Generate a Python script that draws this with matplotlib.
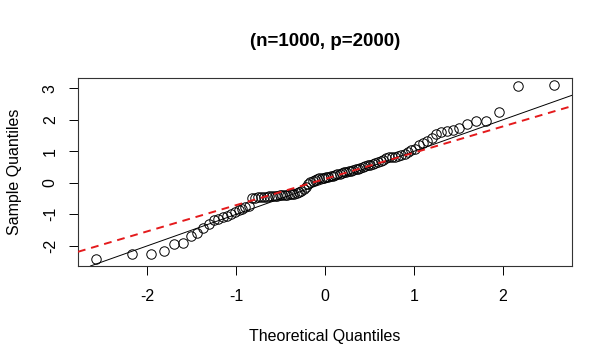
import numpy as np
import matplotlib
matplotlib.use("Agg")
import matplotlib.pyplot as plt
from statistics import NormalDist

plt.rcParams['font.family'] = ['Liberation Sans', 'DejaVu Sans']

# Sorted sample quantiles (n = 100 points)
sample_quantiles = [
    -2.42, -2.27, -2.25, -2.16, -1.94, -1.92, -1.68, -1.58, -1.43, -1.30,
    -1.17, -1.14, -1.10, -1.05, -1.00, -0.91, -0.87, -0.84, -0.77, -0.72,
    -0.48, -0.47, -0.46, -0.46, -0.45, -0.44, -0.43, -0.42, -0.41, -0.41,
    -0.40, -0.39, -0.38, -0.37, -0.36, -0.35, -0.34, -0.32, -0.30, -0.26,
    -0.20, -0.12, -0.05, 0.02, 0.06, 0.09, 0.12, 0.14, 0.16, 0.17,
    0.18, 0.20, 0.21, 0.23, 0.25, 0.27, 0.29, 0.31, 0.33, 0.35,
    0.37, 0.39, 0.41, 0.43, 0.45, 0.47, 0.50, 0.53, 0.56, 0.57,
    0.60, 0.63, 0.65, 0.69, 0.74, 0.79, 0.81, 0.82, 0.83, 0.85,
    0.88, 0.92, 0.98, 1.04, 1.08, 1.20, 1.28, 1.32, 1.42, 1.56,
    1.60, 1.66, 1.69, 1.74, 1.88, 1.95, 1.98, 2.24, 3.07, 3.11,
]
# Reference lines: solid black identity line, dashed red fitted line
identity_line = (0.0, 1.0)        # (intercept, slope)
fitted_line = (0.125, 0.832)      # (intercept, slope)

title = "(n=1000, p=2000)"
x_label = "Theoretical Quantiles"
y_label = "Sample Quantiles"
x_ticks = [-2, -1, 0, 1, 2]
y_ticks = [-2, -1, 0, 1, 2, 3]

n = len(sample_quantiles)
nd = NormalDist()
theoretical = [nd.inv_cdf((i + 0.5) / n) for i in range(n)]

W, H = 613, 364
fig = plt.figure(figsize=(W / 100, H / 100), dpi=100)
ax = fig.add_axes([78 / W, (H - 266) / H, (572 - 78) / W, (266 - 78) / H])

ax.plot(theoretical, sample_quantiles, linestyle='none', marker='o',
        markersize=6.8, markerfacecolor='none', markeredgecolor='black',
        markeredgewidth=0.7, zorder=2)

xr = np.array([min(theoretical), max(theoretical)])
yr = np.array([min(sample_quantiles), max(sample_quantiles)])
xlim = (xr[0] - 0.04 * (xr[1] - xr[0]), xr[1] + 0.04 * (xr[1] - xr[0]))
ylim = (yr[0] - 0.04 * (yr[1] - yr[0]), yr[1] + 0.04 * (yr[1] - yr[0]))
ax.set_xlim(xlim)
ax.set_ylim(ylim)

ax.axline((0, identity_line[0]), slope=identity_line[1], color='black',
          linewidth=0.7, zorder=3)
ax.axline((0, fitted_line[0]), slope=fitted_line[1], color='#e41a1c',
          linewidth=1.4, linestyle=(0, (4, 3)), zorder=3)

ax.set_xticks(x_ticks)
ax.set_xticklabels([str(t) for t in x_ticks])
ax.set_yticks(y_ticks)
ax.set_yticklabels([str(t) for t in y_ticks], rotation=90, va='center')
ax.tick_params(axis='x', length=6.5, width=0.7, labelsize=11.5, pad=10,
               colors='black')
ax.tick_params(axis='y', length=6.5, width=0.7, labelsize=11.5, pad=8,
               colors='black')
for s in ax.spines.values():
    s.set_linewidth(0.8)
    s.set_color('#333333')

fig.text(325 / W, 1 - 42 / H, title, ha='center', va='center',
         fontsize=13.5, fontweight='bold')
fig.text(325 / W, 1 - 337 / H, x_label, ha='center', va='center', fontsize=11.5)
fig.text(15 / W, 1 - 172 / H, y_label, ha='center', va='center', fontsize=11.5,
         rotation=90)

fig.savefig("out.png", dpi=100)
